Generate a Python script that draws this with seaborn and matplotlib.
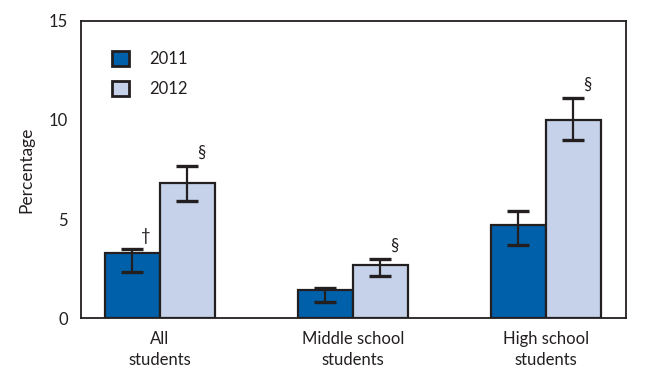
import matplotlib
matplotlib.use("Agg")
import matplotlib.pyplot as plt
import seaborn as sns
import pandas as pd

# values
groups = ["All\nstudents", "Middle school\nstudents", "High school\nstudents"]
years = ["2011", "2012"]
pct_2011 = [3.3, 1.4, 4.7]
pct_2012 = [6.8, 2.7, 10.0]
low_2011 = [2.3, 0.8, 3.7]
high_2011 = [3.5, 1.5, 5.4]
low_2012 = [5.9, 2.1, 9.0]
high_2012 = [7.7, 3.0, 11.1]
marks_2011 = ["\u2020", "", ""]
marks_2012 = ["\u00a7", "\u00a7", "\u00a7"]

colors = ["#0061AA", "#C6D2EA"]
ink = "#231F20"


def build_frame():
    rows = []
    for i, g in enumerate(groups):
        rows.append({"group": g, "year": "2011", "pct": pct_2011[i],
                     "lo": low_2011[i], "hi": high_2011[i], "mark": marks_2011[i]})
        rows.append({"group": g, "year": "2012", "pct": pct_2012[i],
                     "lo": low_2012[i], "hi": high_2012[i], "mark": marks_2012[i]})
    return pd.DataFrame(rows)


def make_plot(df, output_file):
    sns.set_style("white")
    plt.rcParams["font.family"] = ["Lato", "DejaVu Sans"]

    fig = plt.figure(figsize=(6.52, 3.8), dpi=100)
    ax = fig.add_axes([0.124, 0.163, 0.836, 0.782])

    sns.barplot(data=df, x="group", y="pct", hue="year", hue_order=years,
                palette=colors, saturation=1, width=0.57, errorbar=None,
                edgecolor=ink, linewidth=1.6, ax=ax)

    # error bars and significance marks at the bar centres
    for container, year in zip(ax.containers, years):
        sub = df[df["year"] == year].reset_index(drop=True)
        for bar, (_, row) in zip(container, sub.iterrows()):
            cx = bar.get_x() + bar.get_width() / 2
            ax.errorbar(cx, row["pct"],
                        yerr=[[row["pct"] - row["lo"]], [row["hi"] - row["pct"]]],
                        fmt="none", ecolor=ink, elinewidth=1.6, capsize=8,
                        capthick=2.4, zorder=5)
            if row["mark"]:
                ax.text(cx + 0.07, row["hi"] + 0.25, row["mark"], ha="center",
                        va="bottom", fontsize=12, color=ink)

    ax.set_ylim(0, 15)
    ax.set_xlim(-0.41, 2.415)
    ax.set_yticks([0, 5, 10, 15])
    ax.set_xlabel("")
    ax.set_ylabel("Percentage", fontsize=12.5, color=ink, labelpad=10)
    ax.tick_params(axis="both", direction="out", length=6, width=1.3,
                   color=ink, labelsize=12, labelcolor=ink)
    for lab in ax.get_xticklabels():
        lab.set_linespacing(1.35)
    for s in ax.spines.values():
        s.set_visible(True)
        s.set_color(ink)
        s.set_linewidth(1.3)

    leg = ax.legend(loc="upper left", bbox_to_anchor=(0.03, 0.95), frameon=False,
                    fontsize=12, handlelength=1.0, handleheight=1.0,
                    handletextpad=1.2, labelspacing=0.85)
    for t in leg.get_texts():
        t.set_color(ink)
    for h in leg.legend_handles:
        h.set_linewidth(2)

    fig.savefig(output_file, dpi=100)
    plt.close(fig)


def main():
    df = build_frame()
    make_plot(df, "out.png")


if __name__ == "__main__":
    main()
